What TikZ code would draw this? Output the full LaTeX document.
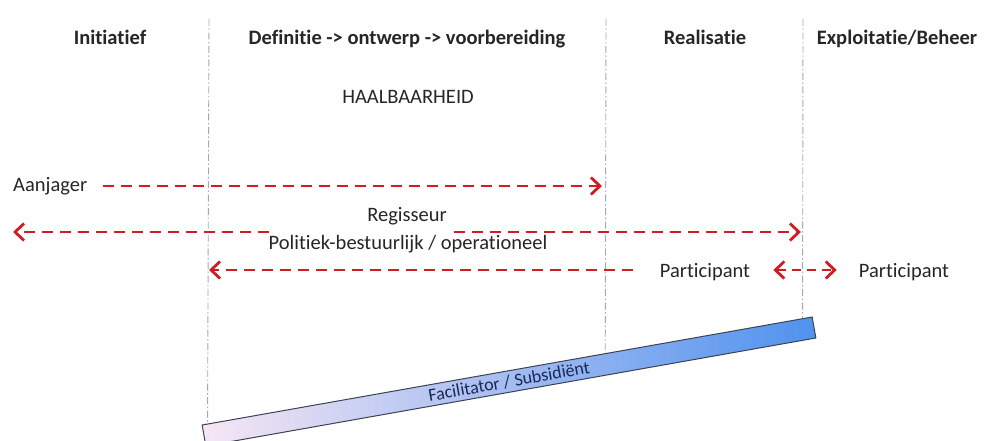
\documentclass[tikz,border=0pt]{standalone}
\usepackage{fontspec}
\setmainfont{Carlito}[Ligatures=NoCommon]
\usetikzlibrary{arrows.meta,calc}
\definecolor{arr}{RGB}{206,30,36}
\definecolor{vline}{RGB}{160,168,184}
\definecolor{txt}{RGB}{38,38,38}
\definecolor{bartxt}{RGB}{25,40,85}
\definecolor{barL}{RGB}{246,230,244}
\definecolor{barM}{RGB}{186,208,240}
\definecolor{barR}{RGB}{80,146,238}
\definecolor{barD}{RGB}{60,66,80}
\begin{document}
\begin{tikzpicture}[x=1pt,y=-1pt,
  every node/.style={text=txt, inner sep=0pt, font=\fontsize{20.5}{24}\selectfont},
  phase/.style={anchor=base, font=\fontsize{20.5}{24}\selectfont\bfseries},
  lbl/.style={anchor=base},
  tipr/.tip={Straight Barb[length=9pt,width=17pt,line width=2.8pt]},
  rarrow/.style={draw=arr, line width=2.8pt, dash pattern=on 11pt off 7pt, -tipr},
  dblarrow/.style={draw=arr, line width=2.8pt, dash pattern=on 9pt off 6pt, tipr-tipr},
  vl/.style={draw=vline, line width=0.9pt, dash pattern=on 7pt off 2.5pt on 1.5pt off 2.5pt},
  barbox/.style={draw=barD, line width=1pt, left color=barL, middle color=barM, right color=barR,
    minimum width=619.5pt, minimum height=21.3pt, rotate=10.04, text=bartxt,
    font=\fontsize{18}{20}\selectfont}
]
\useasboundingbox (0,0) rectangle (987,441);

% phase headers
\node[phase] (h1) at (110,45) {Initiatief};
\node[phase] (h2) at (407,45) {Definitie -> ontwerp -> voorbereiding};
\node[phase] (h3) at (705,45) {Realisatie};
\node[phase] (h4) at (897,45) {Exploitatie/Beheer};

\node[lbl] (haal) at (408,104) {HAALBAARHEID};

% roles
\node[lbl, anchor=base west] (aan) at (13,191) {Aanjager};
\node[lbl] (reg) at (407,221) {Regisseur};
\node[lbl] (pol) at (408,249) {Politiek-bestuurlijk / operationeel};
\node[lbl] (p1) at (705,277) {Participant};
\node[lbl] (p2) at (904,277) {Participant};

% facilitator bar
\node[barbox] (bar) at (509,381.5) {Facilitator / Subsidiënt};

% vertical phase separators
\coordinate (v1) at (209,19);
\coordinate (v2) at (606,19);
\coordinate (v3) at (803,19);
\draw[vl] (v1) -- ($(bar.north west)!0.0098!(bar.north east)$);
\draw[vl] (v2) -- ($(bar.north west)!0.6607!(bar.north east)$);
\draw[vl] (v3) -- ($(bar.north west)!0.9836!(bar.north east)$);

% arrow ends
\coordinate (a1) at (602,186);
\coordinate (l2) at (13,232);
\coordinate (r2) at (801,232);
\coordinate (l3) at (209,270);

\draw[rarrow, shorten <=16pt] (aan.east |- a1) -- (a1);
\draw[rarrow] (pol.west |- r2) -- (l2);
\draw[rarrow] ([xshift=7pt]reg.east |- r2) -- (r2);
\draw[rarrow, shorten <=27pt] (p1.west |- l3) -- (l3);
\draw[dblarrow, shorten <=23pt, shorten >=22pt] (p1.east |- l3) -- (p2.west |- l3);
\end{tikzpicture}
\end{document}
